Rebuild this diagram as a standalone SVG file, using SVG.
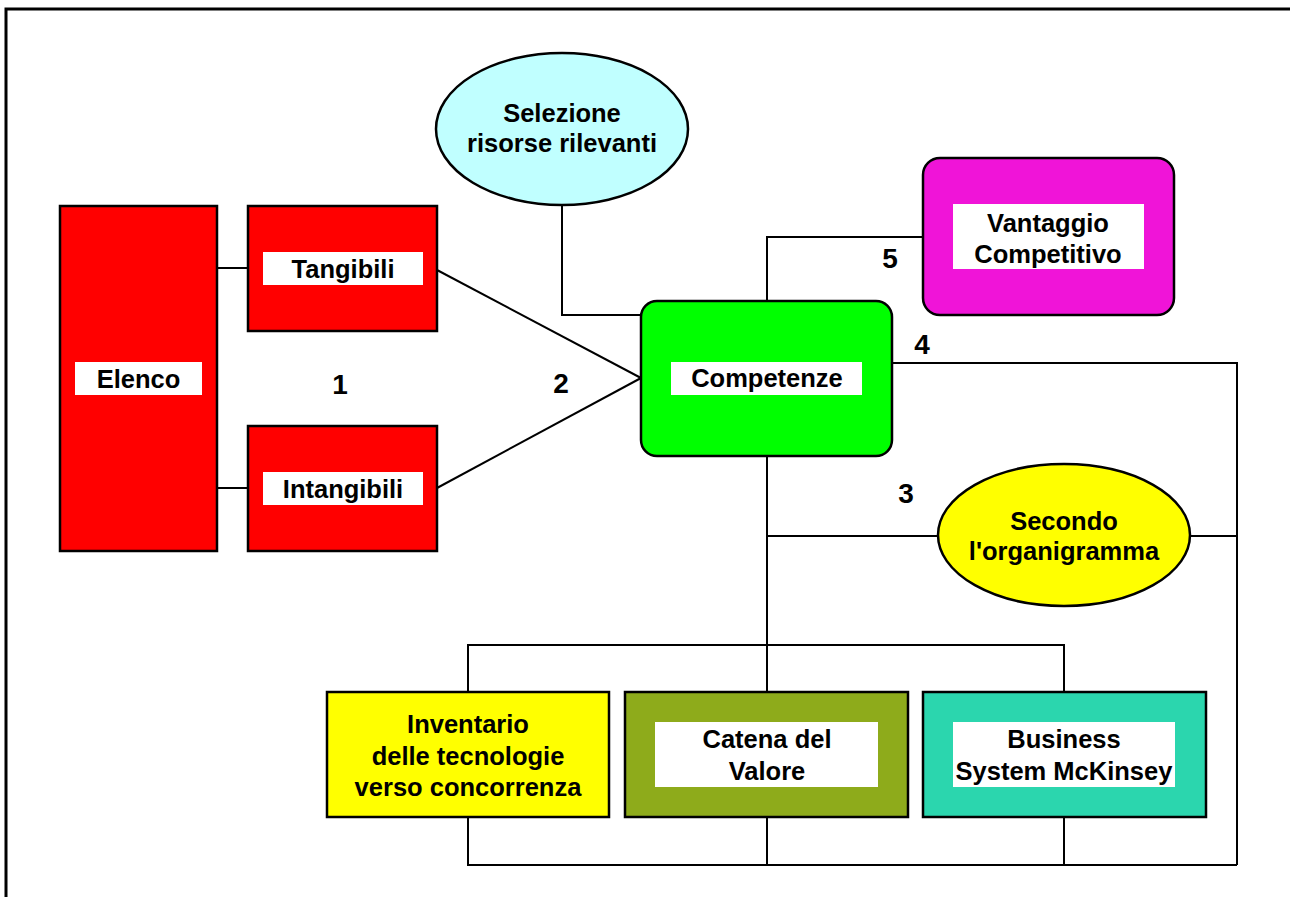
<svg xmlns="http://www.w3.org/2000/svg" width="1290" height="897" viewBox="0 0 1290 897">
  <style>
    .box { stroke: #000; stroke-width: 2.5; }
    .tag { fill: #fff; }
    .lbl { font-family: "Liberation Sans", Arial, sans-serif; font-weight: bold; font-size: 25.5px; fill: #000; text-anchor: middle; }
    .num { font-size: 28px; }
    .wire { fill: none; stroke: #000; stroke-width: 2; }
  </style>
  <rect x="0" y="0" width="1290" height="897" fill="#fff"/>
  <!-- page frame (top and left edges) -->
  <path d="M6 897 V9 H1290" fill="none" stroke="#000" stroke-width="3"/>

  <g id="connectors" class="wire">
    <path d="M217 268 H248"/>
    <path d="M217 488 H248"/>
    <path d="M437 270 L641 378"/>
    <path d="M437 488 L641 378"/>
    <path d="M562 205 V315 H641"/>
    <path d="M767 301 V237 H923"/>
    <path d="M892 363 H1237 V865"/>
    <path d="M767 456 V692"/>
    <path d="M767 536 H938"/>
    <path d="M1191 536 H1237"/>
    <path d="M468 692 V645 H1064 V692"/>
    <path d="M468 817 V865 H1237"/>
    <path d="M767 817 V865"/>
    <path d="M1064 817 V865"/>
  </g>

  <g id="elenco">
    <rect class="box" x="60" y="206" width="157" height="345" fill="#ff0000"/>
    <rect class="tag" x="75" y="362" width="127" height="33"/>
    <text class="lbl" x="138.5" y="388">Elenco</text>
  </g>

  <g id="tangibili">
    <rect class="box" x="248" y="206" width="189" height="125" fill="#ff0000"/>
    <rect class="tag" x="263" y="252" width="160" height="33"/>
    <text class="lbl" x="343" y="278">Tangibili</text>
  </g>

  <g id="intangibili">
    <rect class="box" x="248" y="426" width="189" height="125" fill="#ff0000"/>
    <rect class="tag" x="263" y="472" width="160" height="33"/>
    <text class="lbl" x="343" y="498">Intangibili</text>
  </g>

  <g id="selezione">
    <ellipse class="box" cx="562" cy="129" rx="126" ry="76" fill="#c0ffff"/>
    <text class="lbl" x="562" y="122">Selezione</text>
    <text class="lbl" x="562" y="152">risorse rilevanti</text>
  </g>

  <g id="competenze">
    <rect class="box" x="641" y="301" width="251" height="155" rx="16" fill="#00ff00"/>
    <rect class="tag" x="671" y="362" width="191" height="33"/>
    <text class="lbl" x="767" y="387">Competenze</text>
  </g>

  <g id="vantaggio">
    <rect class="box" x="923" y="158" width="251" height="157" rx="17" fill="#f014d8"/>
    <rect class="tag" x="953" y="204" width="191" height="65"/>
    <text class="lbl" x="1048" y="232">Vantaggio</text>
    <text class="lbl" x="1048" y="263">Competitivo</text>
  </g>

  <g id="secondo">
    <ellipse class="box" cx="1064" cy="535" rx="126" ry="71" fill="#ffff00"/>
    <text class="lbl" x="1064" y="530">Secondo</text>
    <text class="lbl" x="1064" y="560">l'organigramma</text>
  </g>

  <g id="inventario">
    <rect class="box" x="327" y="692" width="282" height="125" fill="#ffff00"/>
    <text class="lbl" x="468" y="733">Inventario</text>
    <text class="lbl" x="468" y="765">delle tecnologie</text>
    <text class="lbl" x="468" y="796">verso concorrenza</text>
  </g>

  <g id="catena">
    <rect class="box" x="625" y="692" width="283" height="125" fill="#8eab1b"/>
    <rect class="tag" x="655" y="722" width="223" height="65"/>
    <text class="lbl" x="767" y="748">Catena del</text>
    <text class="lbl" x="767" y="780">Valore</text>
  </g>

  <g id="business">
    <rect class="box" x="923" y="692" width="283" height="125" fill="#2bd6ae"/>
    <rect class="tag" x="953" y="722" width="222" height="65"/>
    <text class="lbl" x="1064" y="748">Business</text>
    <text class="lbl" x="1064" y="780">System McKinsey</text>
  </g>

  <g id="steps">
    <text class="lbl num" x="340" y="394">1</text>
    <text class="lbl num" x="561" y="393">2</text>
    <text class="lbl num" x="906" y="503">3</text>
    <text class="lbl num" x="922" y="354">4</text>
    <text class="lbl num" x="890" y="268">5</text>
  </g>
</svg>
